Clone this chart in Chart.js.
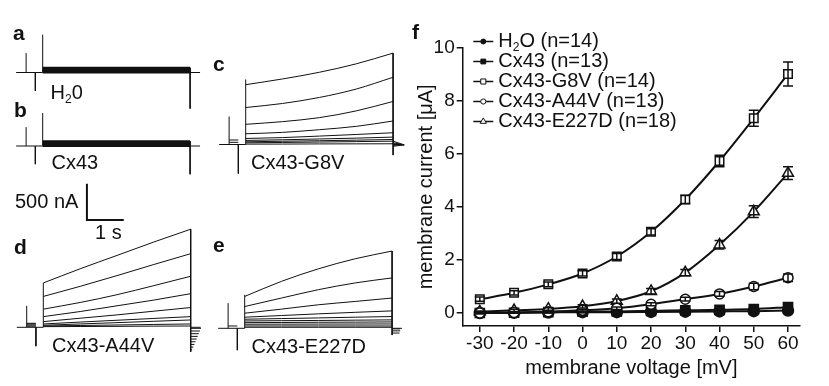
<!DOCTYPE html>
<html><head><meta charset="utf-8">
<script src="https://cdn.jsdelivr.net/npm/chart.js@4.4.1/dist/chart.umd.min.js"></script>
<style>
html,body{margin:0;padding:0;background:#fff;}
#fig{position:relative;width:829px;height:386px;overflow:hidden;background:#fff;font-family:"Liberation Sans",Arial,Helvetica,sans-serif;color:#111;}
#fig canvas{position:absolute;}
.lbl{position:absolute;white-space:nowrap;line-height:1;}
.pl{font-weight:bold;font-size:21px;}
.tl{font-size:20px;}
.tl sub{font-size:12px;vertical-align:-4px;line-height:0;}
</style></head><body><div id="fig"></div>
<script>
// ---------- panel f data ----------
const voltages = [-30, -20, -10, 0, 10, 20, 30, 40, 50, 60];          // mV
const xTicks = [-30, -20, -10, 0, 10, 20, 30, 40, 50, 60];
const yTicks = [0, 2, 4, 6, 8, 10];
const seriesLabels = ['H\u2082O (n=14)', 'Cx43 (n=13)', 'Cx43-G8V (n=14)', 'Cx43-A44V (n=13)', 'Cx43-E227D (n=18)'];
const h2oVals   = [0.00, 0.01, 0.02, 0.03, 0.03, 0.04, 0.05, 0.06, 0.07, 0.09];   // µA
const h2oErr    = [0.02, 0.02, 0.02, 0.02, 0.03, 0.03, 0.03, 0.03, 0.04, 0.04];
const cx43Vals  = [0.00, 0.01, 0.03, 0.05, 0.06, 0.08, 0.10, 0.12, 0.15, 0.22];
const cx43Err   = [0.02, 0.02, 0.02, 0.03, 0.03, 0.03, 0.04, 0.04, 0.05, 0.06];
const g8vVals   = [0.52, 0.76, 1.08, 1.49, 2.13, 3.06, 4.28, 5.73, 7.34, 9.01];
const g8vErr    = [0.08, 0.08, 0.09, 0.10, 0.11, 0.12, 0.15, 0.22, 0.30, 0.45];
const a44vVals  = [0.00, 0.02, 0.05, 0.10, 0.18, 0.33, 0.52, 0.72, 1.00, 1.33];
const a44vErr   = [0.03, 0.03, 0.03, 0.04, 0.05, 0.06, 0.07, 0.09, 0.12, 0.14];
const e227dVals = [0.05, 0.10, 0.15, 0.25, 0.45, 0.82, 1.52, 2.57, 3.82, 5.27];
const e227dErr  = [0.03, 0.04, 0.05, 0.06, 0.08, 0.10, 0.12, 0.16, 0.22, 0.24];

// ---------- current traces (panels a-e), time in s, current in nA ----------
const stepTimes = [0, 1, 2, 3, 4];
const artifactTimes = [-0.45, -0.2, 0, 4];   // pre-pulse on, pre-pulse off, step on, step off
const baselineSpan = [-0.72, 4.27];
const aSpikes = [267, -253, 521, -497];
const aPrePulse = [];
const aBand = [0, 13, 26, 39, 52, 65];
const bSpikes = [260, -250, 454, -389];
const bPrePulse = [];
const bBand = [0, 13, 26, 39, 52, 65];
const cSpikes = [386, -400, 896, -146];
const cPrePulse = [30, 62];
const cTraces = [
  [824, 903, 995, 1111, 1259],
  [509, 565, 648, 764, 926],
  [278, 315, 370, 463, 593],
  [148, 167, 204, 250, 324],
  [83, 95, 116, 138, 162],
  [56, 65, 76, 88, 102],
  [37, 45, 52, 60, 69],
  [23, 28, 34, 40, 46],
  [5, 6, 8, 9, 10]
];
const cTailStarts = [46, 23, 10, -10, -25];
const cTailEnd = [4.3, -5];
const dSpikes = [296, -260, 611, -339];
const dPrePulse = [15, 30, 45, 55];
const dTraces = [
  [611, 806, 990, 1175, 1351],
  [425, 564, 712, 865, 1014],
  [250, 342, 449, 574, 703],
  [147, 217, 296, 375, 463],
  [78, 125, 171, 222, 272],
  [46, 72, 97, 122, 147],
  [28, 46, 64, 83, 101],
  [18, 25, 32, 39, 46],
  [9, 11, 13, 16, 18]
];
const dTailLevels = [-14, -51, -88, -125, -162, -199, -236, -273, -310];
const dTailEnds = [4.28, 4.25, 4.22, 4.19, 4.16, 4.13, 4.10, 4.07, 4.04];
const eSpikes = [347, -301, 462, -93];
const ePrePulse = [32];
const eTraces = [
  [439, 647, 819, 958, 1064],
  [300, 417, 532, 625, 694],
  [208, 264, 324, 370, 417],
  [153, 176, 199, 220, 240],
  [125, 134, 143, 153, 162],
  [101, 105, 108, 112, 116],
  [78, 80, 83, 85, 88],
  [56, 57, 58, 59, 60],
  [32, 32, 32, 32, 32],
  [14, 14, 14, 14, 14]
];
const eTailLevels = [-8, -35, -65];
const eTailEnds = [4.22, 4.22, 4.2];
const scaleBarTimes = [1.2, 1.2, 2.2];        // 1 s
const scaleBarCurrents = [-520, -1020, -1020]; // 500 nA

// ---------- layout ----------
const PX_PER_S = 36.85, PX_PER_NA = 0.0726;
const INK = '#111';
const FONT = '"Liberation Sans", Arial, Helvetica, sans-serif';
Chart.defaults.font.family = FONT;
Chart.defaults.color = INK;
const fig = document.getElementById('fig');

function makeCanvas(b){
  const c = document.createElement('canvas');
  c.width = b.w; c.height = b.h;
  c.style.left = b.x + 'px'; c.style.top = b.y + 'px';
  c.style.width = b.w + 'px'; c.style.height = b.h + 'px';
  fig.appendChild(c);
  return c;
}

function lineDs(points, opts){
  return Object.assign({data: points, borderColor: INK, borderWidth: 1, pointRadius: 0,
    tension: 0, fill: false, clip: false, spanGaps: false}, opts || {});
}
function segs(list){
  const pts = [];
  list.forEach(s => { pts.push({x: s[0], y: s[1]}, {x: s[2], y: s[3]}, {x: s[2], y: null}); });
  return pts;
}
function frameDs(spikes, prePulse, ends){
  const [tPre, tOff, tOn, tEnd] = artifactTimes;
  const list = [[baselineSpan[0], 0, tOn, 0], [tPre, 0, tPre, spikes[0]]];
  prePulse.forEach(l => list.push([tPre, l, tOff, l]));
  list.push([tOff, 0, tOff, spikes[1]]);
  list.push([tOn, 0, tOn, spikes[2]]);
  list.push([tEnd, Math.max(...ends), tEnd, spikes[3]]);
  list.push([tEnd, 0, baselineSpan[1], 0]);
  return lineDs(segs(list));
}
function traceDs(vals, w){
  return lineDs(stepTimes.map((t, i) => ({x: t, y: vals[i]})), {cubicInterpolationMode: 'monotone', borderWidth: w || 1});
}
function traceChart(b, o, datasets){
  const c = makeCanvas(b);
  new Chart(c, {type: 'line', data: {datasets},
    options: {responsive: false, animation: false, devicePixelRatio: 1, events: [],
      layout: {padding: 0},
      plugins: {legend: {display: false}, tooltip: {enabled: false}},
      scales: {
        x: {type: 'linear', display: false, min: (b.x - o.x) / PX_PER_S, max: (b.x + b.w - o.x) / PX_PER_S},
        y: {type: 'linear', display: false, min: (o.y - b.y - b.h) / PX_PER_NA, max: (o.y - b.y) / PX_PER_NA}
      }}});
}

// panel a
traceChart({x: 0, y: 0, w: 215, h: 125}, {x: 42.7, y: 72.5},
  [frameDs(aSpikes, aPrePulse, aBand)].concat(aBand.map(v => traceDs([v, v, v, v, v], 2))));
// panel b (+ scale bar)
traceChart({x: 0, y: 95, w: 215, h: 135}, {x: 42.7, y: 146},
  [frameDs(bSpikes, bPrePulse, bBand)].concat(bBand.map(v => traceDs([v, v, v, v, v], 2)),
  [lineDs(scaleBarTimes.map((t, i) => ({x: t, y: scaleBarCurrents[i]})), {borderWidth: 2})]));
// panel c
traceChart({x: 205, y: 40, w: 205, h: 140}, {x: 245.7, y: 144.5},
  [frameDs(cSpikes, cPrePulse, cTraces.map(r => r[4]))].concat(cTraces.map(r => traceDs(r)),
  [lineDs(segs(cTailStarts.map(v => [4, v, cTailEnd[0], cTailEnd[1]])))]));
// panel d
traceChart({x: 0, y: 215, w: 215, h: 145}, {x: 43.3, y: 327.3},
  [frameDs(dSpikes, dPrePulse, dTraces.map(r => r[4]))].concat(dTraces.map(r => traceDs(r)),
  [lineDs(segs(dTailLevels.map((v, i) => [4, v, dTailEnds[i], v])))]));
// panel e
traceChart({x: 205, y: 235, w: 205, h: 125}, {x: 244.7, y: 328.3},
  [frameDs(eSpikes, ePrePulse, eTraces.map(r => r[4]))].concat(eTraces.map(r => traceDs(r)),
  [lineDs(segs(eTailLevels.map((v, i) => [4, v, eTailEnds[i], v])))]));

// ---------- panel f ----------
function drawMarker(ctx, style, x, y, r, fillCol){
  ctx.beginPath();
  if (style === 'circle') ctx.arc(x, y, r, 0, Math.PI * 2);
  else if (style === 'rect') { const s = r * Math.SQRT1_2; ctx.rect(x - s, y - s, 2 * s, 2 * s); }
  else if (style === 'triangle') {
    let a = 0;
    for (let k = 0; k < 3; k++) { const px = x + Math.sin(a) * r, py = y - Math.cos(a) * r; k ? ctx.lineTo(px, py) : ctx.moveTo(px, py); a += Math.PI * 2 / 3; }
    ctx.closePath();
  }
  ctx.fillStyle = fillCol; ctx.fill(); ctx.stroke();
}

const errorBars = {
  id: 'errorBars',
  afterDatasetsDraw(chart){
    const {ctx} = chart, xs = chart.scales.x, ys = chart.scales.y;
    ctx.save(); ctx.strokeStyle = INK; ctx.lineWidth = 1.5;
    chart.data.datasets.forEach(ds => {
      ds.errors.forEach((e, i) => {
        const p = ds.data[i], x = xs.getPixelForValue(p.x);
        const yt = ys.getPixelForValue(p.y + e), yb = ys.getPixelForValue(p.y - e);
        ctx.beginPath();
        ctx.moveTo(x, yt); ctx.lineTo(x, yb);
        ctx.moveTo(x - 5, yt); ctx.lineTo(x + 5, yt);
        ctx.moveTo(x - 5, yb); ctx.lineTo(x + 5, yb);
        ctx.stroke();
      });
    });
    ctx.restore();
  }
};
const legendBox = {
  id: 'legendBox',
  afterDraw(chart){
    const {ctx, chartArea} = chart;
    const x0 = chartArea.left + 10.6, y0 = chartArea.top - 6.2;
    ctx.save();
    chart.data.datasets.forEach((ds, i) => {
      const y = y0 + 20 * i;
      ctx.strokeStyle = INK; ctx.lineWidth = 1.5;
      ctx.beginPath(); ctx.moveTo(x0, y); ctx.lineTo(x0 + 20, y); ctx.stroke();
      ctx.lineWidth = 1;
      drawMarker(ctx, ds.pointStyle, x0 + 10, y, ds.legendRadius, ds.pointBackgroundColor);
      ctx.fillStyle = INK; ctx.textBaseline = 'middle'; ctx.textAlign = 'left';
      const parts = ds.label.split('\u2082');
      let x = x0 + 25;
      ctx.font = '20px ' + FONT;
      ctx.fillText(parts[0], x, y); x += ctx.measureText(parts[0]).width;
      if (parts.length > 1) {
        ctx.font = '12px ' + FONT; ctx.fillText('2', x, y + 6); x += ctx.measureText('2').width;
        ctx.font = '20px ' + FONT; ctx.fillText(parts[1], x, y);
      }
    });
    ctx.restore();
  }
};

function series(label, vals, errs, style, filled, r, lr, order){
  return {label, data: vals.map((v, i) => ({x: voltages[i], y: v})), errors: errs, order,
    borderColor: INK, borderWidth: 2, cubicInterpolationMode: 'monotone', fill: false,
    pointStyle: style, pointRadius: r, pointHoverRadius: r, pointBorderWidth: 1.5,
    pointBorderColor: INK, pointBackgroundColor: filled ? INK : '#fff', legendRadius: lr};
}
const fc = makeCanvas({x: 405, y: 0, w: 424, h: 386});
new Chart(fc, {
  type: 'line',
  data: {datasets: [
    series(seriesLabels[0], h2oVals, h2oErr, 'circle', true, 5.5, 2.5, 5),
    series(seriesLabels[1], cx43Vals, cx43Err, 'rect', true, 6.5, 3.4, 4),
    series(seriesLabels[2], g8vVals, g8vErr, 'rect', false, 6, 3.6, 1),
    series(seriesLabels[3], a44vVals, a44vErr, 'circle', false, 5, 2.6, 2),
    series(seriesLabels[4], e227dVals, e227dErr, 'triangle', false, 6.3, 3.6, 3)
  ]},
  options: {
    responsive: false, animation: false, devicePixelRatio: 1, events: [],
    layout: {padding: {left: 0, top: 47.7, right: 29, bottom: 0}},
    plugins: {legend: {display: false}, tooltip: {enabled: false}},
    scales: {
      x: {type: 'linear', min: -35, max: 63.5,
        afterBuildTicks: s => { s.ticks = xTicks.map(v => ({value: v})); },
        afterFit: s => { s.height = 60; },
        grid: {drawOnChartArea: false, drawTicks: true, tickLength: 6, color: INK, lineWidth: 1.5},
        border: {display: true, color: INK, width: 1.5},
        ticks: {font: {size: 19}, color: INK, padding: 0, maxRotation: 0, autoSkip: false},
        title: {display: true, text: 'membrane voltage [mV]', color: INK, font: {size: 20}, padding: {top: 0, bottom: 6}}},
      y: {type: 'linear', min: -0.49, max: 10,
        afterBuildTicks: s => { s.ticks = yTicks.map(v => ({value: v})); },
        afterFit: s => { s.width = 57.7; },
        grid: {drawOnChartArea: false, drawTicks: true, tickLength: 6, color: INK, lineWidth: 1.5},
        border: {display: true, color: INK, width: 1.5},
        ticks: {font: {size: 19}, color: INK, padding: 2},
        title: {display: true, text: 'membrane current [\u03bcA]', color: INK, font: {size: 20}, padding: {top: 9.5, bottom: 0}}}
    }
  },
  plugins: [errorBars, legendBox]
});
</script>
<script>
// ---------- text labels ----------
const labelsHtml = [
  ['a', 13, 40, 'pl'], ['b', 14, 116.7, 'pl'], ['c', 213, 70.5, 'pl'],
  ['d', 14, 253.3, 'pl'], ['e', 213, 251.7, 'pl'], ['f', 412, 38.3, 'pl'],
  ['H<sub>2</sub>0', 50.5, 99.3, 'tl'], ['Cx43', 51.5, 169.3, 'tl'], ['Cx43-G8V', 251, 169, 'tl'],
  ['Cx43-A44V', 52, 351.7, 'tl'], ['Cx43-E227D', 251.5, 353.3, 'tl'],
  ['500 nA', 15, 208.3, 'tl'], ['1 s', 95, 239, 'tl']
];
labelsHtml.forEach(([t, x, base, cls]) => {
  const d = document.createElement('div');
  d.className = 'lbl ' + cls; d.innerHTML = t;
  const fs = cls === 'pl' ? 21 : 20;
  d.style.left = x + 'px'; d.style.top = (base - 0.8465 * fs) + 'px';
  fig.appendChild(d);
});
</script>
</body></html>
